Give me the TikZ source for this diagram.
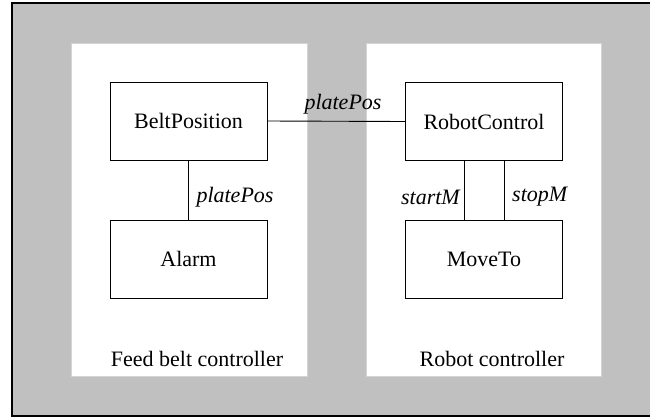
\documentclass[tikz,border=0pt]{standalone}
\usepackage{fontspec}
\setmainfont{Liberation Serif}
\definecolor{framegray}{HTML}{C0C0C0}
\definecolor{paneledge}{HTML}{D4D4D4}
\tikzset{
  unit/.style={draw=black, line width=0.9pt, fill=white, minimum width=157pt,
    minimum height=78pt, inner sep=0pt, font=\fontsize{22}{24}\selectfont},
  panel/.style={fill=white, draw=paneledge, line width=0.8pt},
  wire/.style={draw=black, line width=0.9pt},
  sig/.style={font=\fontsize{22}{24}\selectfont\itshape, inner sep=0pt},
  caption/.style={font=\fontsize{22}{24}\selectfont, inner sep=0pt}
}
\begin{document}
\begin{tikzpicture}[x=1pt, y=-1pt]
  \useasboundingbox (0,0) rectangle (650,418);
  \clip (0,0) rectangle (650,418);
  \fill[white] (0,0) rectangle (650,418);
  % outer frame
  \draw[fill=framegray, line width=1.3pt] (12,3) rectangle (660,416);
  % controller panels
  \draw[panel] (71,43) rectangle (307,376);
  \draw[panel] (366,43) rectangle (601,376);
  % components
  \node[unit] (bp) at (188.5,121) {BeltPosition};
  \node[unit] (al) at (188.5,259) {Alarm};
  \node[unit] (rc) at (484,121.5) {RobotControl};
  \node[unit] (mt) at (484,259.5) {MoveTo};
  % connections
  \draw[wire] (bp.east) -- (rc.west);
  \draw[wire] (bp.south) -- (al.north);
  \draw[wire] ([xshift=-20pt]rc.south) -- ([xshift=-20pt]mt.north);
  \draw[wire] ([xshift=20pt]rc.south) -- ([xshift=20pt]mt.north);
  % signal labels
  \node[sig] (l1) at (343,104) {platePos};
  \node[sig] (l2) at (235,197) {platePos};
  \node[sig, anchor=east] (l3) at (460,197) {startM};
  \node[sig, anchor=west] (l4) at (512,197) {stopM};
  % panel captions
  \node[caption] (c1) at (197,359) {Feed belt controller};
  \node[caption] (c2) at (492,359) {Robot controller};
\end{tikzpicture}
\end{document}
